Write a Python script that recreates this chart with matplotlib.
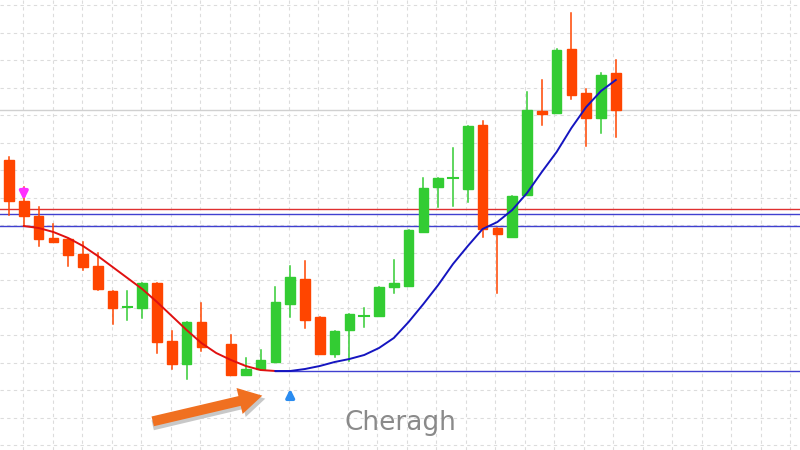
import matplotlib
matplotlib.use("Agg")
import matplotlib.pyplot as plt
import numpy as np

# candle slots (index), open/high/low/close in price units (450 - pixel y)
idx = [0,1,2,3,4,5,6,7,8,9,10,11,12,13,15,16,17,18,19,20,21,22,23,24,25,26,27,28,29,30,31,32,33,34,35,36,37,38,39,40,41]
o_y = [160,201,216,238,239,254,266,291,307,308,283,341,364,322,344,375,369,362,304,279,317,354,330,316,316,287,286,232,187,178,189,125,228,237,195,111,113,49,93,118,73]
h_y = [157,187,207,224,239,242,253,291,291,283,283,331,322,303,335,358,350,287,266,261,317,331,314,308,287,260,230,178,178,148,126,121,228,196,92,80,49,13,89,73,60]
l_y = [215,226,246,242,266,270,290,324,320,318,353,369,379,351,375,375,370,362,317,328,354,357,361,327,316,293,286,232,207,206,202,237,293,237,195,125,113,99,146,133,137]
c_y = [201,216,239,242,255,267,289,308,307,283,342,364,322,347,375,369,360,302,277,320,354,331,314,316,287,283,230,188,178,178,126,229,234,196,110,114,50,95,118,75,110]
opens = [450 - v for v in o_y]
highs = [450 - v for v in h_y]
lows = [450 - v for v in l_y]
closes = [450 - v for v in c_y]

ma_red_x = [1,2,3,4,5,6,7,8,9,10,11,12,13,14,15,16,17,18]
ma_red_y = [450 - v for v in [226,228,232,238,246,256,267,278,289,302,316,330,343,353,360,366,370,371]]
ma_blue_x = [18,19,20,21,22,23,24,25,26,27,28,29,30,31,32,33,34,35,36,37,38,39,40,41]
ma_blue_y = [450 - v for v in [371,371,369,366,362,359,355,348,338,322,304,285,264,246,229,222,210,193,172,152,128,107,91,80]]

levels_full = [450 - 209, 450 - 214, 450 - 226]
level_colors = ["#e03030", "#4040d0", "#4040d0"]
gray_level = 450 - 110
support = 450 - 371

step = 14.8
fig = plt.figure(figsize=(8, 4.5), dpi=100)
ax = fig.add_axes([0, 0, 1, 1])
x0 = -9 / step
ax.set_xlim(x0, x0 + 800 / step)
ax.set_ylim(0, 450)
ax.axis("off")

# grid
for gx in np.arange(23, 800, 29.5):
    ax.axvline(x0 + gx / step, color="#dcdcdc", ls=(0, (3, 3)), lw=0.8, zorder=0)
for gy in np.arange(5, 450, 27.5):
    ax.axhline(450 - gy, color="#dcdcdc", ls=(0, (3, 3)), lw=0.8, zorder=0)

ax.axhline(gray_level, color="#d0d0d0", lw=1, zorder=1)
for lv, col in zip(levels_full, level_colors):
    ax.axhline(lv, color=col, lw=1, zorder=1)
ax.plot([18, x0 + 800 / step], [support, support], color="#4040d0", lw=1, zorder=1)

green, red = "#33cc33", "#ff4500"
for i, o, h, l, c in zip(idx, opens, highs, lows, closes):
    col = green if c >= o else red
    ax.plot([i, i], [l, h], color=col, lw=1.1, zorder=2)
    bh = abs(c - o)
    if bh < 2:
        ax.plot([i - 0.33, i + 0.33], [o, o], color=col, lw=1.5, zorder=3)
    else:
        ax.add_patch(plt.Rectangle((i - 0.33, min(o, c)), 0.66, bh, color=col, zorder=3))

ax.plot(ma_red_x, ma_red_y, color="#e01010", lw=1.4, zorder=4)
ax.plot(ma_blue_x, ma_blue_y, color="#1515c0", lw=1.4, zorder=4)

# signal arrows
ax.annotate("", xy=(1, 450 - 203), xytext=(1, 450 - 186),
            arrowprops=dict(arrowstyle="-|>", color="#ff30ff", lw=2.5, mutation_scale=12), zorder=5)
ax.annotate("", xy=(19, 450 - 386), xytext=(19, 450 - 400),
            arrowprops=dict(arrowstyle="-|>", color="#2a8cf0", lw=2.5, mutation_scale=12), zorder=5)
# orange arrow with shadow
ax.annotate("", xy=(x0 + 268 / step, 450 - 398), xytext=(x0 + 150 / step, 450 - 426),
            arrowprops=dict(arrowstyle="simple,head_width=1.6,head_length=1.4,tail_width=0.6",
                            color="#c8c8c8", lw=0, mutation_scale=12), zorder=5)
ax.annotate("", xy=(x0 + 265 / step, 450 - 395), xytext=(x0 + 150 / step, 450 - 422),
            arrowprops=dict(arrowstyle="simple,head_width=1.6,head_length=1.4,tail_width=0.6",
                            color="#f07020", lw=0, mutation_scale=12), zorder=6)

ax.text(x0 + 400 / step, 450 - 423, "Cheragh", fontsize=19, color="#8a8a8a",
        ha="center", va="center", family="DejaVu Sans", zorder=5)

fig.savefig("out.png", dpi=100)
